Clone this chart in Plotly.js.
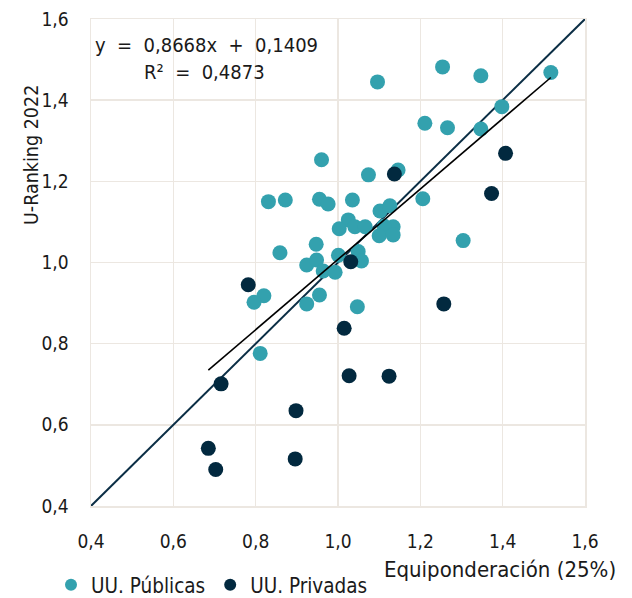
<!DOCTYPE html>
<html>
<head>
<meta charset="utf-8">
<script src="https://cdn.plot.ly/plotly-3.0.1.min.js"></script>
<style>html,body{margin:0;padding:0;background:#fff;}#chart{width:632px;height:598px;}</style>
</head>
<body>
<div id="chart"></div>
<script>
// Universidades públicas: Equiponderación (25%) vs U-Ranking 2022
const publicX = [0.960,0.831,0.872,0.955,0.976,1.035,1.025,1.003,1.041,1.066,1.102,1.126,1.134,1.112,1.100,1.134,0.947,0.859,0.924,0.948,1.001,1.049,1.057,0.964,0.993,1.047,0.820,0.796,0.924,0.955,0.811,1.096,1.254,1.347,1.517,1.398,1.211,1.266,1.347,1.146,1.074,1.206,1.304];
const publicY = [1.253,1.150,1.154,1.156,1.144,1.154,1.105,1.083,1.088,1.088,1.127,1.140,1.088,1.090,1.066,1.068,1.045,1.024,0.994,1.006,1.018,1.027,1.004,0.979,0.976,0.891,0.918,0.902,0.898,0.920,0.776,1.445,1.482,1.460,1.468,1.384,1.343,1.332,1.329,1.228,1.216,1.157,1.054];
// Universidades privadas
const privateX = [1.407,1.137,1.373,1.031,0.782,1.015,0.716,1.027,1.124,1.257,0.898,0.685,0.703,0.896];
const privateY = [1.269,1.218,1.170,1.002,0.945,0.838,0.701,0.721,0.720,0.898,0.635,0.542,0.490,0.516];
// Regression
const slope = 0.8668, intercept = 0.1409, r2 = 0.4873;
const axisRange = [0.4, 1.6];
const tickVals = [0.4, 0.6, 0.8, 1.0, 1.2, 1.4, 1.6];
const seriesNames = ['UU. Públicas', 'UU. Privadas'];
const xTitle = 'Equiponderación (25%)';
const yTitle = 'U-Ranking 2022';

const allX = publicX.concat(privateX);
const xmin = Math.min(...allX), xmax = Math.max(...allX);
const fmt = v => v.toFixed(4).replace('.', ',');
const S = '\u00A0';

const FONT = 'DejaVu Sans Condensed, DejaVu Sans, sans-serif';
const TEXT = '#1a1a1a';
const GRID = '#ECE7E1';

const traces = [
  {x: axisRange, y: axisRange, mode: 'lines', line: {color: '#0B2E45', width: 2}, showlegend: false, hoverinfo: 'skip'},
  {x: publicX, y: publicY, mode: 'markers', name: seriesNames[0], marker: {color: '#33A1AE', size: 15}},
  {x: privateX, y: privateY, mode: 'markers', name: seriesNames[1], marker: {color: '#02293F', size: 15}},
  {x: [xmin, xmax], y: [slope * xmin + intercept, slope * xmax + intercept], mode: 'lines', line: {color: '#000000', width: 1.6}, showlegend: false, hoverinfo: 'skip'}
];

const L = 91, R = 47, T = 19, B = 92;
const W = 632 - L - R, H = 598 - T - B;
const px = p => (p - L) / W;
const py = p => (598 - B - p) / H;

const axisCommon = {
  range: axisRange, tickvals: tickVals, tickformat: '.1f',
  showgrid: true, gridcolor: GRID, gridwidth: 1.5,
  showline: true, mirror: true, linecolor: GRID, linewidth: 1.5,
  zeroline: false, ticks: '', tickfont: {family: FONT, size: 19, color: TEXT}
};

const layout = {
  width: 632, height: 598,
  margin: {l: L, r: R, t: T, b: B, autoexpand: false},
  paper_bgcolor: '#fff', plot_bgcolor: '#fff',
  separators: ',.',
  font: {family: FONT, size: 20, color: TEXT},
  xaxis: Object.assign({}, axisCommon, {ticklabelstandoff: 18}),
  yaxis: Object.assign({}, axisCommon, {ticklabelstandoff: 17}),
  showlegend: true,
  legend: {orientation: 'h', x: px(51), xanchor: 'left', y: py(585), yanchor: 'middle',
           font: {family: FONT, size: 20.5, color: TEXT}, itemwidth: 30, itemsizing: 'constant',
           tracegroupgap: 0, bgcolor: 'rgba(0,0,0,0)'},
  annotations: [
    {text: 'y' + S + S + '=' + S + S + fmt(slope) + 'x' + S + S + '+' + S + S + fmt(intercept), xref: 'paper', yref: 'paper',
     x: px(93), y: py(45), xanchor: 'left', yanchor: 'middle', showarrow: false,
     font: {family: FONT, size: 20, color: TEXT}},
    {text: 'R²' + S + S + '=' + S + S + fmt(r2), xref: 'paper', yref: 'paper',
     x: px(142), y: py(72), xanchor: 'left', yanchor: 'middle', showarrow: false,
     font: {family: FONT, size: 20, color: TEXT}},
    {text: xTitle, xref: 'paper', yref: 'paper', x: px(618), y: py(569),
     xanchor: 'right', yanchor: 'middle', showarrow: false,
     font: {family: FONT, size: 22, color: TEXT}},
    {text: yTitle, xref: 'paper', yref: 'paper', x: px(31), y: py(155),
     xanchor: 'center', yanchor: 'middle', textangle: -90, showarrow: false,
     font: {family: FONT, size: 19.5, color: TEXT}}
  ]
};

Plotly.newPlot('chart', traces, layout, {displayModeBar: false, staticPlot: true});
</script>
</body>
</html>
